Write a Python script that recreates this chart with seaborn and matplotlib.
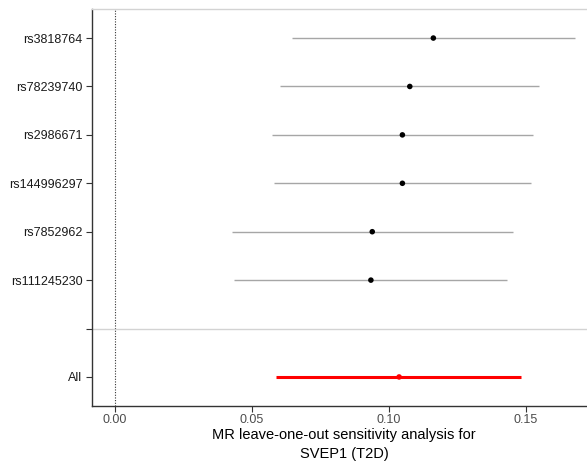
import matplotlib
matplotlib.use("Agg")
import matplotlib.pyplot as plt
import seaborn as sns
import numpy as np
import pandas as pd

snps = ["rs3818764", "rs78239740", "rs2986671", "rs144996297",
        "rs7852962", "rs111245230", "", "All"]
b = [0.1162, 0.1076, 0.1049, 0.1049, 0.0939, 0.0934, np.nan, 0.1037]
lo = [0.0646, 0.0604, 0.0573, 0.0581, 0.0427, 0.0435, np.nan, 0.0589]
up = [0.1679, 0.1547, 0.1527, 0.1517, 0.1454, 0.1432, np.nan, 0.1481]
is_total = [False, False, False, False, False, False, False, True]
xticks = [0.00, 0.05, 0.10, 0.15]
xlabels = ["0.00", "0.05", "0.10", "0.15"]

df = pd.DataFrame({"SNP": snps, "b": b, "lo": lo, "up": up, "tot": is_total})
df["pos"] = np.arange(len(df))

sns.set_theme(style="white")
plt.rcParams["font.family"] = ["Liberation Sans", "DejaVu Sans"]

fig = plt.figure(figsize=(5.87, 4.63), dpi=100)
ax = fig.add_axes([92 / 587, 57 / 463, (598 - 92) / 587, (406 - 9) / 463])

ax.axvline(0, color="#333333", linestyle=(0, (1, 1.4)), linewidth=0.8, zorder=1)

blank_pos = df.loc[df["SNP"] == "", "pos"].values[0]
ax.axhline(blank_pos, color="#d3d3d3", linewidth=1.0, zorder=1)

d = df.dropna()
snp_rows = d[~d["tot"]]
tot_rows = d[d["tot"]]
ax.hlines(snp_rows["pos"], snp_rows["lo"], snp_rows["up"], color="#a6a6a6", linewidth=1.0, zorder=2)
ax.hlines(tot_rows["pos"], tot_rows["lo"], tot_rows["up"], color="#ff0000", linewidth=2.2, zorder=2)

sns.scatterplot(data=snp_rows, x="b", y="pos", color="black", s=16, edgecolor="none", ax=ax, zorder=3)
sns.scatterplot(data=tot_rows, x="b", y="pos", color="#ff0000", s=16, edgecolor="none", ax=ax, zorder=3)

n = len(df)
ax.set_ylim(n - 1 + 0.6, -0.6)
ax.set_xlim(-0.0084, 0.1763)
ax.set_yticks(df["pos"])
ax.set_yticklabels(df["SNP"], fontsize=9, color="#1a1a1a")
ax.set_xticks(xticks)
ax.set_xticklabels(xlabels, fontsize=9, color="#4d4d4d")
ax.tick_params(axis="both", bottom=True, left=True, length=4, width=0.8,
               color="#333333", direction="out")
ax.tick_params(axis="x", pad=2)
ax.tick_params(axis="y", pad=3)

for side in ["left", "bottom"]:
    ax.spines[side].set_color("#333333")
    ax.spines[side].set_linewidth(1.0)
ax.spines["top"].set_color("#d3d3d3")
ax.spines["top"].set_linewidth(1.0)
ax.spines["right"].set_visible(False)

ax.set_ylabel("")
ax.set_xlabel("MR leave-one-out sensitivity analysis for\nSVEP1 (T2D)", fontsize=10.5,
              color="black", linespacing=1.4, labelpad=2)
ax.xaxis.set_label_coords((344 - 92) / (598 - 92), -0.056, transform=ax.transAxes)
ax.xaxis.label.set_va("top")

fig.savefig("out.png", dpi=100)
